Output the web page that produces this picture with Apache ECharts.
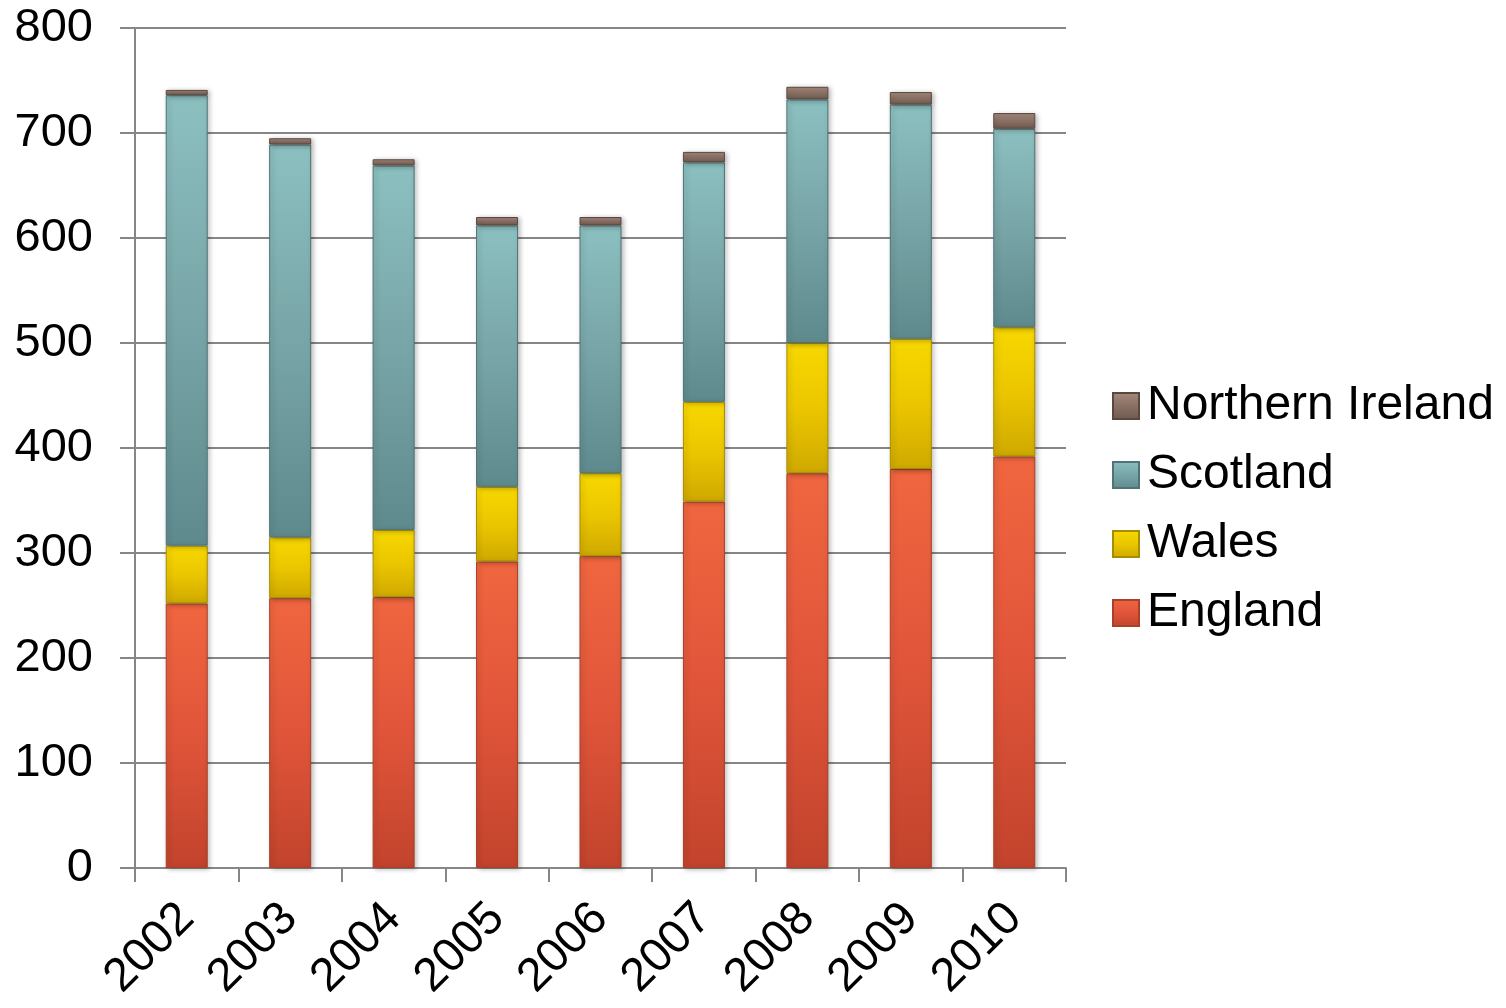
<!DOCTYPE html>
<html>
<head>
<meta charset="utf-8">
<title>UK stacked totals 2002–2010</title>
<script src="https://cdn.jsdelivr.net/npm/echarts@6/dist/echarts.min.js"></script>
<style>
  html, body { margin: 0; padding: 0; background: #ffffff; }
  #chart { width: 1506px; height: 1008px; }
</style>
</head>
<body>
<div id="chart"></div>
<script>
// Years on the category axis
const years = ['2002', '2003', '2004', '2005', '2006', '2007', '2008', '2009', '2010'];

// Stacked values per nation
const england = [252, 257, 258, 292, 297, 349, 376, 380, 392];
const wales = [55, 58, 64, 71, 79, 95, 124, 124, 123];
const scotland = [429, 374, 347, 249, 236, 228, 232, 223, 189];
const northernIreland = [5, 6, 6, 8, 8, 10, 12, 12, 15];

// Value axis ticks
const yTicks = [0, 100, 200, 300, 400, 500, 600, 700, 800];

const FONT = 'Liberation Sans, Arial, sans-serif';

function vgrad(top, mid, bottom) {
  return new echarts.graphic.LinearGradient(0, 0, 0, 1, [
    { offset: 0, color: top },
    { offset: 0.5, color: mid },
    { offset: 1, color: bottom }
  ]);
}

function barSeries(name, data, fill, border) {
  return {
    name: name,
    type: 'bar',
    stack: 'total',
    barWidth: 42,
    data: data,
    itemStyle: {
      color: fill,
      borderColor: border,
      borderWidth: 1,
      shadowColor: 'rgba(0,0,0,0.28)',
      shadowBlur: 5,
      shadowOffsetX: 2,
      shadowOffsetY: 1
    },
    emphasis: { disabled: true }
  };
}

const chart = echarts.init(document.getElementById('chart'), null, { renderer: 'canvas' });

chart.setOption({
  animation: false,
  backgroundColor: '#ffffff',
  grid: { left: 135, right: 440, top: 28, bottom: 140, containLabel: false },
  legend: {
    orient: 'vertical',
    left: 1107,
    top: 377,
    itemWidth: 26,
    itemHeight: 26,
    itemGap: 21,
    icon: 'rect',
    data: ['Northern Ireland', 'Scotland', 'Wales', 'England'],
    textStyle: { fontFamily: FONT, fontSize: 48, color: '#000000', padding: [0, 0, 0, 3] }
  },
  xAxis: {
    type: 'category',
    data: years,
    boundaryGap: true,
    axisLine: { lineStyle: { color: '#868686', width: 2 } },
    axisTick: { show: true, length: 14, alignWithLabel: false, lineStyle: { color: '#868686', width: 2 } },
    axisLabel: {
      rotate: 45,
      margin: 43,
      fontFamily: FONT,
      fontSize: 47,
      color: '#000000'
    }
  },
  yAxis: {
    type: 'value',
    min: 0,
    max: 800,
    interval: 100,
    axisLine: { show: true, lineStyle: { color: '#868686', width: 2 } },
    axisTick: { show: true, length: 15, lineStyle: { color: '#868686', width: 2 } },
    splitLine: { show: true, lineStyle: { color: '#868686', width: 2 } },
    axisLabel: {
      margin: 42,
      fontFamily: FONT,
      fontSize: 47,
      color: '#000000',
      formatter: function (v) { return yTicks.indexOf(v) >= 0 ? String(v) : ''; }
    }
  },
  series: [
    barSeries('England', england, vgrad('#F0663F', '#E0553A', '#C2432C'), '#A8402A'),
    barSeries('Wales', wales, vgrad('#F7D800', '#EBC600', '#CFA900'), '#A88C00'),
    barSeries('Scotland', scotland, vgrad('#8CC0C0', '#78A5A7', '#5F8A8D'), '#4F7376'),
    barSeries('Northern Ireland', northernIreland, vgrad('#A58A7C', '#8A7064', '#6E5A50'), '#5A4840')
  ]
});
</script>
</body>
</html>
